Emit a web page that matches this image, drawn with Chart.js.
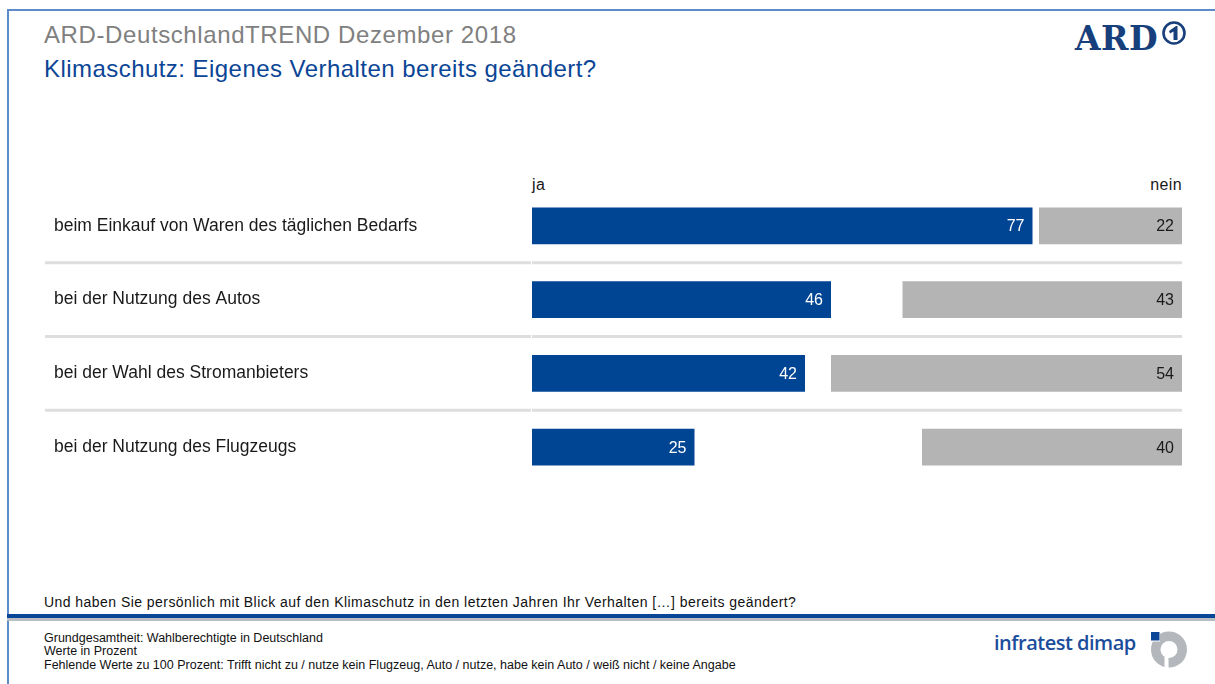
<!DOCTYPE html>
<html>
<head>
<meta charset="utf-8">
<script src="https://cdn.jsdelivr.net/npm/chart.js@4.4.1/dist/chart.umd.min.js"></script>
<style>
  html, body { margin:0; padding:0; background:#fff; }
  body { width:1215px; height:684px; position:relative; overflow:hidden; font-family:"Liberation Sans", Arial, sans-serif; }
  .abs { position:absolute; white-space:nowrap; }
  #frameL { left:7px; top:9px; width:2px; height:675px; background:#5b8bcb; }
  #frameT { left:7px; top:9px; width:1208px; height:2px; background:#5b8bcb; }
  #lineB { left:7px; top:614px; width:1208px; height:4px; background:#0a4698; }
  #lineG { left:7px; top:618px; width:1208px; height:3px; background:#b9bcc0; }
  #t1 { left:44px; top:21px; font-size:24px; letter-spacing:0.6px; color:#808080; }
  #t2 { left:44px; top:55px; font-size:24px; letter-spacing:0.45px; color:#0b4596; }
  #ja { left:532px; top:176px; font-size:16px; letter-spacing:0.4px; color:#1a1a1a; }
  #nein { right:33px; top:176px; font-size:16px; letter-spacing:0.4px; color:#1a1a1a; }
  #q { left:44px; top:594px; font-size:14px; letter-spacing:0.45px; color:#111; }
  #fn { left:44px; top:632px; font-size:12.5px; line-height:13.3px; color:#111; }
  #ard { left:1075px; top:19px; font-family:"DejaVu Serif", serif; font-weight:bold; font-size:33px; letter-spacing:0.5px; color:#173f7b; }
  #ardlogo { left:1160px; top:20px; }
  #inf { left:994px; top:629px; font-family:"Open Sans","Noto Sans",sans-serif; font-weight:600; font-size:20px; color:#1b4d9c; letter-spacing:-0.5px; }
  #inflogo { left:1148px; top:630px; }
  #chartWrap { position:absolute; left:0; top:150px; width:1215px; height:350px; }
</style>
</head>
<body>
<div class="abs" id="frameL"></div>
<div class="abs" id="frameT"></div>
<div class="abs" id="t1">ARD-DeutschlandTREND Dezember 2018</div>
<div class="abs" id="t2">Klimaschutz: Eigenes Verhalten bereits geändert?</div>
<div class="abs" id="ard">ARD</div>
<svg class="abs" id="ardlogo" width="30" height="30" viewBox="0 0 30 30">
  <circle cx="14" cy="13" r="10.5" fill="none" stroke="#173f7b" stroke-width="2.6"/>
  <path d="M9 11 L16 6 L17.5 6 L17.5 20 L13.5 20 L13.5 11.5 L10 13.5 Z" fill="#173f7b"/>
</svg>
<div class="abs" id="ja">ja</div>
<div class="abs" id="nein">nein</div>
<div id="chartWrap"><canvas id="c" width="1215" height="350"></canvas></div>
<div class="abs" id="q">Und haben Sie persönlich mit Blick auf den Klimaschutz in den letzten Jahren Ihr Verhalten […] bereits geändert?</div>
<div class="abs" id="lineB"></div>
<div class="abs" id="lineG"></div>
<div class="abs" id="fn">Grundgesamtheit: Wahlberechtigte in Deutschland<br>Werte in Prozent<br>Fehlende Werte zu 100 Prozent: Trifft nicht zu / nutze kein Flugzeug, Auto / nutze, habe kein Auto / weiß nicht / keine Angabe</div>
<div class="abs" id="inf">infratest dimap</div>
<svg class="abs" id="inflogo" width="42" height="40" viewBox="0 0 42 40">
  <circle cx="21" cy="19.5" r="18" fill="#b4b8bc"/>
  <circle cx="21" cy="19.5" r="8.5" fill="#fff"/>
  <rect x="0" y="0" width="12" height="11.5" fill="#fff"/>
  <rect x="3" y="2" width="8.5" height="8.5" fill="#0b4596"/>
  <rect x="16.5" y="26" width="4" height="14" fill="#fff"/>
</svg>
<script>
const categories = [
  "beim Einkauf von Waren des täglichen Bedarfs",
  "bei der Nutzung des Autos",
  "bei der Wahl des Stromanbieters",
  "bei der Nutzung des Flugzeugs"
];
const jaValues = [77, 46, 42, 25];
const neinValues = [22, 43, 54, 40];
const seriesNames = ["ja", "nein"];

const BLUE = "#004494";
const GRAY = "#b4b4b4";

const separatorPlugin = {
  id: "separators",
  beforeDatasetsDraw(chart) {
    const ctx = chart.ctx;
    const y = chart.scales.y;
    const area = chart.chartArea;
    ctx.save();
    ctx.fillStyle = "#dedede";
    for (let i = 0; i < categories.length - 1; i++) {
      const yy = (y.getPixelForValue(i) + y.getPixelForValue(i + 1)) / 2;
      ctx.fillRect(45, yy - 1.5, area.left - 1 - 45, 3);
      ctx.fillRect(area.left, yy - 1.5, area.right - area.left, 3);
    }
    ctx.restore();
  }
};

const valueLabelPlugin = {
  id: "valueLabels",
  afterDatasetsDraw(chart) {
    const ctx = chart.ctx;
    ctx.save();
    ctx.font = "16px 'Liberation Sans', Arial, sans-serif";
    ctx.textAlign = "right";
    ctx.textBaseline = "middle";
    chart.data.datasets.forEach((ds, di) => {
      const meta = chart.getDatasetMeta(di);
      meta.data.forEach((bar, i) => {
        const v = di === 0 ? jaValues[i] : neinValues[i];
        ctx.fillStyle = di === 0 ? "#ffffff" : "#1a1a1a";
        ctx.fillText(String(v), bar.x - 8, bar.y + 1);
      });
    });
    ctx.restore();
  }
};

new Chart(document.getElementById("c"), {
  type: "bar",
  data: {
    labels: categories,
    datasets: [
      { label: seriesNames[0], data: jaValues, backgroundColor: BLUE, grouped: false,
        categoryPercentage: 1, barPercentage: 0.5, borderWidth: 0 },
      { label: seriesNames[1], data: neinValues.map(v => [100 - v, 100]), backgroundColor: GRAY, grouped: false,
        categoryPercentage: 1, barPercentage: 0.5, borderWidth: 0 }
    ]
  },
  options: {
    indexAxis: "y",
    responsive: false,
    animation: false,
    devicePixelRatio: 1,
    layout: { padding: { left: 54, right: 33, top: 39, bottom: 16 } },
    plugins: { legend: { display: false }, tooltip: { enabled: false } },
    scales: {
      x: { display: false, min: 0, max: 100 },
      y: {
        grid: { display: false },
        border: { display: false },
        ticks: {
          crossAlign: "far",
          color: "#1a1a1a",
          font: { size: 17.5, family: "'Liberation Sans', Arial, sans-serif" },
          padding: 0
        },
        afterFit(scale) { scale.width = 478; }
      }
    }
  },
  plugins: [separatorPlugin, valueLabelPlugin]
});
</script>
</body>
</html>
